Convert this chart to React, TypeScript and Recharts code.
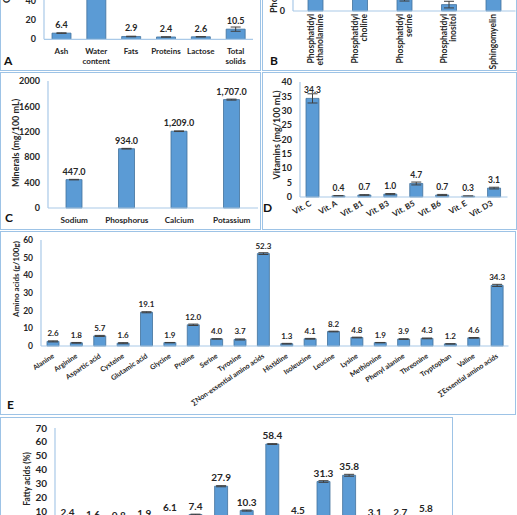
import React from "react";
import { BarChart, Bar, XAxis, YAxis, ErrorBar, LabelList } from "recharts";

const BAR_FILL = "#5B9BD5";
const BAR_EDGE = "#41719C";
const AXIS = "#A9C9E8";
const BORDER = "#9DC3E6";
const INK = "#262626";

// A - gross composition (%)
const compositionNames = ["Ash", "Water\ncontent", "Fats", "Proteins", "Lactose", "Total\nsolids"];
const compositionValues = [6.4, 89.5, 2.9, 2.4, 2.6, 10.5];
const compositionErrors = [0.3, 1.2, 0.3, 0.2, 0.2, 2.2];
const compositionTicks = [0, 20, 40, 60, 80, 100];

// B - phospholipids
const phosphoNames = [
  "Phosphatidyl\nethanolamine",
  "Phosphatidyl\ncholine",
  "Phosphatidyl\nserine",
  "Phosphatidyl\ninositol",
  "Sphingomyelin",
];
const phosphoValues = [35.7, 24.9, 5.0, 2.7, 28.3];
const phosphoErrors = [1.2, 1.0, 0.8, 1.4, 1.1];
const phosphoTicks = [0, 10, 20, 30, 40];

// C - minerals (mg/100 mL)
const mineralNames = ["Sodium", "Phosphorus", "Calcium", "Potassium"];
const mineralValues = [447.0, 934.0, 1209.0, 1707.0];
const mineralErrors = [4, 5, 5, 8];
const mineralTicks = [0, 400, 800, 1200, 1600, 2000];

// D - vitamins (mg/100 mL)
const vitaminNames = ["Vit. C", "Vit. A", "Vit. B1", "Vit. B3", "Vit. B5", "Vit. B6", "Vit. E", "Vit. D3"];
const vitaminValues = [34.3, 0.4, 0.7, 1.0, 4.7, 0.7, 0.3, 3.1];
const vitaminErrors = [1.6, 0.1, 0.1, 0.2, 0.5, 0.2, 0.1, 0.3];
const vitaminTicks = [0, 5, 10, 15, 20, 25, 30, 35, 40];

// E - amino acids (g/100g)
const aminoNames = [
  "Alanine", "Arginine", "Aspartic acid", "Cysteine", "Glutamic acid", "Glycine",
  "Proline", "Serine", "Tyrosine", "∑Non-essential amino acids", "Histidine",
  "Isoleucine", "Leucine", "Lysine", "Methionine", "Phenyl alanine", "Threonine",
  "Tryptophan", "Valine", "∑Essential amino acids",
];
const aminoValues = [2.6, 1.8, 5.7, 1.6, 19.1, 1.9, 12.0, 4.0, 3.7, 52.3, 1.3, 4.1, 8.2, 4.8, 1.9, 3.9, 4.3, 1.2, 4.6, 34.3];
const aminoErrors = [0.3, 0.2, 0.3, 0.3, 0.3, 0.1, 0.4, 0.1, 0.3, 0.5, 0.2, 0.2, 0.2, 0.2, 0.1, 0.2, 0.2, 0.1, 0.2, 0.6];
const aminoTicks = [0, 10, 20, 30, 40, 50, 60];

// F - fatty acids (%)
const fattyNames = [
  "C8:0", "C10:0", "C12:0", "C13:0", "C14:0", "C15:0", "C16:0", "C18:0", "∑SFA",
  "C16:1", "C18:1", "∑MUFA", "C18:2", "C18:3", "∑PUFA",
];
const fattyValues = [2.4, 1.6, 0.8, 1.9, 6.1, 7.4, 27.9, 10.3, 58.4, 4.5, 31.3, 35.8, 3.1, 2.7, 5.8];
const fattyErrors = [0.1, 0.1, 0.1, 0.1, 0.2, 0.3, 0.4, 0.4, 0.3, 0.2, 0.6, 0.7, 0.2, 0.1, 0.2];
const fattyTicks = [0, 10, 20, 30, 40, 50, 60, 70];

type Row = { name: string; value: number; err: number };
const rows = (names: string[], values: number[], errors: number[]): Row[] =>
  names.map((name, i) => ({ name, value: values[i], err: errors[i] }));

const oneDecimal = (v: any) => Number(v).toFixed(1);
const withComma = (v: any) =>
  Number(v).toLocaleString("en-US", { minimumFractionDigits: 1, maximumFractionDigits: 1 });

// x-axis tick renderers
const stackedTick = (size: number) =>
  function StackedTick(props: any) {
    const { x, y, payload } = props;
    const lines = String(payload.value).split("\n");
    return (
      <text x={x} y={y} textAnchor="middle" fill={INK} fontSize={size} fontWeight={700}>
        {lines.map((l, i) => (
          <tspan key={i} x={x} dy={i === 0 ? 14.5 : 10.5}>
            {l}
          </tspan>
        ))}
      </text>
    );
  };

const verticalTick = (size: number) =>
  function VerticalTick(props: any) {
    const { x, y, payload } = props;
    const lines = String(payload.value).split("\n");
    const first = lines.length === 1 ? 3 : -1.5;
    return (
      <g transform={`translate(${x},${y + 3}) rotate(-90)`}>
        <text textAnchor="end" fill={INK} fontSize={size} fontWeight={700}>
          {lines.map((l, i) => (
            <tspan key={i} x={0} y={first + i * 9}>
              {l}
            </tspan>
          ))}
        </text>
      </g>
    );
  };

const slantTick = (angle: number, dx: number, dy: number, size: number) =>
  function SlantTick(props: any) {
    const { x, y, payload } = props;
    return (
      <g transform={`translate(${x + dx},${y + dy}) rotate(${angle})`}>
        <text x={0} y={size * 0.72} textAnchor="end" fill={INK} fontSize={size} fontWeight={700}>
          {payload.value}
        </text>
      </g>
    );
  };

interface PanelProps {
  data: Row[];
  left: number;
  top: number;
  width: number;
  height: number;
  plotLeft: number;
  plotRight: number;
  plotTop: number;
  plotBottom: number;
  ticks: number[];
  barSize: number;
  tick: any;
  yTickSize: number;
  valueSize: number;
  fmt?: (v: any) => string;
}

function PanelChart(p: PanelProps) {
  return (
    <div style={{ position: "absolute", left: p.left, top: p.top, width: p.width, height: p.height }}>
      <BarChart
        width={p.width}
        height={p.height}
        data={p.data}
        margin={{ top: p.plotTop, right: p.width - p.plotRight, left: 0, bottom: 0 }}
      >
        <XAxis
          dataKey="name"
          height={p.height - p.plotBottom}
          interval={0}
          tickSize={0}
          tickMargin={0}
          tickLine={false}
          axisLine={{ stroke: AXIS, strokeWidth: 1.2 }}
          tick={p.tick}
        />
        <YAxis
          width={p.plotLeft}
          domain={[p.ticks[0], p.ticks[p.ticks.length - 1]]}
          ticks={p.ticks}
          interval={0}
          tickSize={0}
          tickMargin={8}
          tickLine={false}
          axisLine={{ stroke: AXIS, strokeWidth: 1.2 }}
          tick={{ fill: INK, fontSize: p.yTickSize, fontWeight: 700 }}
        />
        <Bar
          dataKey="value"
          fill={BAR_FILL}
          stroke={BAR_EDGE}
          strokeWidth={0.8}
          barSize={p.barSize}
          isAnimationActive={false}
        >
          <ErrorBar dataKey="err" width={5} stroke="#404040" strokeWidth={1} direction="y" />
          <LabelList
            dataKey="value"
            position="top"
            offset={5}
            formatter={p.fmt ?? oneDecimal}
            fill={INK}
            fontSize={p.valueSize}
            fontWeight={700}
          />
        </Bar>
      </BarChart>
    </div>
  );
}

function Frame({ left, top, width, height }: { left: number; top: number; width: number; height: number }) {
  return (
    <div
      style={{
        position: "absolute",
        left,
        top,
        width,
        height,
        boxSizing: "border-box",
        border: `1.5px solid ${BORDER}`,
      }}
    />
  );
}

function Letter({ x, y, text }: { x: number; y: number; text: string }) {
  return (
    <div
      style={{
        position: "absolute",
        left: x,
        top: y,
        transform: "translateY(-50%)",
        fontSize: 12,
        fontWeight: 700,
        color: "#111",
        lineHeight: 1,
      }}
    >
      {text}
    </div>
  );
}

function YTitle({ x, y, text, size }: { x: number; y: number; text: string; size: number }) {
  return (
    <div
      style={{
        position: "absolute",
        left: x,
        top: y,
        transform: "translate(-50%,-50%) rotate(-90deg)",
        fontSize: size,
        fontWeight: 700,
        color: INK,
        whiteSpace: "nowrap",
        lineHeight: 1,
      }}
    >
      {text}
    </div>
  );
}

function YTitleFrom({ x, y, text, size }: { x: number; y: number; text: string; size: number }) {
  return (
    <div
      style={{
        position: "absolute",
        left: x,
        top: y,
        transformOrigin: "0 0",
        transform: "rotate(-90deg)",
        fontSize: size,
        fontWeight: 700,
        color: INK,
        whiteSpace: "nowrap",
        lineHeight: 1,
      }}
    >
      {text}
    </div>
  );
}

export default function App() {
  return (
    <div
      style={{
        position: "absolute",
        left: 0,
        top: 0,
        width: 517,
        height: 515,
        overflow: "hidden",
        background: "#fff",
        fontFamily: "Lato, 'Open Sans', sans-serif",
      }}
    >
      <Frame left={0} top={-10} width={261} height={81} />
      <Frame left={262} top={-10} width={255} height={81} />
      <Frame left={0} top={72} width={261} height={158} />
      <Frame left={262} top={72} width={255} height={158} />
      <Frame left={0} top={231} width={516} height={184} />
      <Frame left={0} top={417} width={453} height={120} />

      <PanelChart
        data={rows(compositionNames, compositionValues, compositionErrors)}
        left={0} top={-100} width={260} height={170}
        plotLeft={44} plotRight={253} plotTop={42.6} plotBottom={139.3}
        ticks={compositionTicks} barSize={19} tick={stackedTick(8)} yTickSize={9} valueSize={9}
      />
      <PanelChart
        data={rows(phosphoNames, phosphoValues, phosphoErrors)}
        left={262} top={-100} width={256} height={170}
        plotLeft={31} plotRight={253.5} plotTop={16.2} plotBottom={111}
        ticks={phosphoTicks} barSize={15} tick={verticalTick(8.5)} yTickSize={9} valueSize={9}
      />
      <PanelChart
        data={rows(mineralNames, mineralValues, mineralErrors)}
        left={0} top={72} width={262} height={157}
        plotLeft={48} plotRight={258} plotTop={9} plotBottom={136}
        ticks={mineralTicks} barSize={16} tick={stackedTick(8.2)} yTickSize={9} valueSize={9} fmt={withComma}
      />
      <PanelChart
        data={rows(vitaminNames, vitaminValues, vitaminErrors)}
        left={262} top={72} width={254} height={157}
        plotLeft={38} plotRight={245.5} plotTop={10} plotBottom={125}
        ticks={vitaminTicks} barSize={13} tick={slantTick(-30, -4, 3, 8)} yTickSize={9} valueSize={8.5}
      />
      <PanelChart
        data={rows(aminoNames, aminoValues, aminoErrors)}
        left={0} top={231} width={515} height={183}
        plotLeft={41} plotRight={508.5} plotTop={9} plotBottom={115}
        ticks={aminoTicks} barSize={12} tick={slantTick(-34, -1, 7, 7)} yTickSize={8.5} valueSize={8}
      />
      <PanelChart
        data={rows(fattyNames, fattyValues, fattyErrors)}
        left={0} top={417} width={452} height={200}
        plotLeft={55} plotRight={439} plotTop={11} plotBottom={107.8}
        ticks={fattyTicks} barSize={13} tick={stackedTick(9)} yTickSize={10} valueSize={10}
      />

      <YTitleFrom x={2} y={3} text="Content (%)" size={9} />
      <YTitleFrom x={269} y={13} text="Phospholipids (%)" size={9} />
      <YTitle x={15} y={143} text="Minerals (mg/100 mL)" size={9} />
      <YTitle x={276} y={135} text="Vitamins (mg/100 mL)" size={9} />
      <YTitle x={16} y={279} text="Amino acids (g/100g)" size={8} />
      <YTitle x={27} y={479} text="Fatty acids (%)" size={8.5} />

      <Letter x={4} y={61} text="A" />
      <Letter x={270} y={61} text="B" />
      <Letter x={5} y={218} text="C" />
      <Letter x={263} y={208} text="D" />
      <Letter x={7} y={405} text="E" />
    </div>
  );
}
